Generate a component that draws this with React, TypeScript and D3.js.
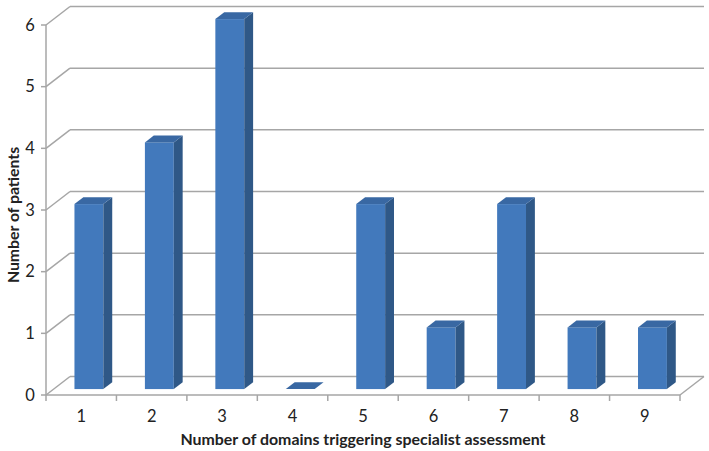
import * as d3 from "d3";

const categories = ["1", "2", "3", "4", "5", "6", "7", "8", "9"];
const patients = [3, 4, 6, 0, 3, 1, 3, 1, 1];
const yTicks = [0, 1, 2, 3, 4, 5, 6];

const W = 709, H = 451;
const left = 46, right = 680, floorY = 395, topY = 25;
// depth of the 3D box
const DX = 24, DY = -18.5;
const barFront = 0.32, barBack = 0.69;

const font = "Lato, 'Open Sans', sans-serif";
const grid = "#A6A6A6";

export default function App() {
  const x = d3.scaleBand<string>().domain(categories).range([left, right]);
  const y = d3.scaleLinear().domain([0, 6]).range([floorY, topY]);
  const barW = x.bandwidth() * 0.41;

  const fx = barFront * DX, fy = barFront * DY;
  const bdx = (barBack - barFront) * DX, bdy = (barBack - barFront) * DY;

  const pts = (p: number[][]) => p.map((d) => d.join(",")).join(" ");

  return (
    <svg width={W} height={H} style={{ position: "absolute", left: 0, top: 0, background: "#fff" }}>
      {/* gridlines: side wall diagonal + back wall horizontal */}
      {yTicks.map((t) => (
        <g key={t} stroke={grid} strokeWidth={1.5} fill="none">
          <line x1={left} y1={y(t)} x2={left + DX} y2={y(t) + DY} />
          <line x1={left + DX} y1={y(t) + DY} x2={right + DX} y2={y(t) + DY} />
        </g>
      ))}
      {/* floor front edge and right diagonal */}
      <g stroke={grid} strokeWidth={1.5} fill="none">
        <line x1={left} y1={floorY} x2={right} y2={floorY} />
        <line x1={right} y1={floorY} x2={right + DX} y2={floorY + DY} />
        <line x1={left} y1={floorY} x2={left} y2={topY} />
      </g>
      {/* y ticks + labels */}
      {yTicks.map((t) => (
        <g key={"yt" + t}>
          <line x1={left - 5} x2={left} y1={y(t)} y2={y(t)} stroke={grid} strokeWidth={1.5} />
          <text x={30} y={y(t)} dy="0.35em" textAnchor="middle" fontFamily={font} fontSize={16.5} fill="#222">
            {t}
          </text>
        </g>
      ))}
      {/* x ticks + labels */}
      {categories.concat(["_end"]).map((c, i) => {
        const xp = i < categories.length ? (x(c) as number) : right;
        return <line key={"xt" + i} x1={xp} x2={xp} y1={floorY} y2={floorY + 6} stroke={grid} strokeWidth={1.5} />;
      })}
      {categories.map((c) => (
        <text key={"xl" + c} x={(x(c) as number) + x.bandwidth() / 2} y={416} dy="0.35em" textAnchor="middle" fontFamily={font} fontSize={16.5} fill="#222">
          {c}
        </text>
      ))}
      {/* bars */}
      {patients.map((v, i) => {
        const cx = (x(categories[i]) as number) + x.bandwidth() / 2;
        const x0 = cx - barW / 2 + fx, x1 = cx + barW / 2 + fx;
        const yb = floorY + fy, yt = y(v) + fy;
        return (
          <g key={"b" + i}>
            {v > 0 && <rect x={x0} y={yt} width={barW} height={yb - yt} fill="#4279BC" />}
            {v > 0 && (
              <polygon points={pts([[x1, yt], [x1 + bdx, yt + bdy], [x1 + bdx, yb + bdy], [x1, yb]])} fill="#2F5887" />
            )}
            <polygon points={pts([[x0, yt], [x0 + bdx, yt + bdy], [x1 + bdx, yt + bdy], [x1, yt]])} fill="#3968A3" />
          </g>
        );
      })}
      {/* axis titles */}
      <text transform={`translate(13,${(floorY + topY) / 2 + 5}) rotate(-90)`} dy="0.35em" textAnchor="middle" fontFamily={font} fontWeight="bold" fontSize={15.8} fill="#222">
        Number of patients
      </text>
      <text x={363} y={439} dy="0.35em" textAnchor="middle" fontFamily={font} fontWeight="bold" fontSize={15.9} fill="#222">
        Number of domains triggering specialist assessment
      </text>
    </svg>
  );
}
